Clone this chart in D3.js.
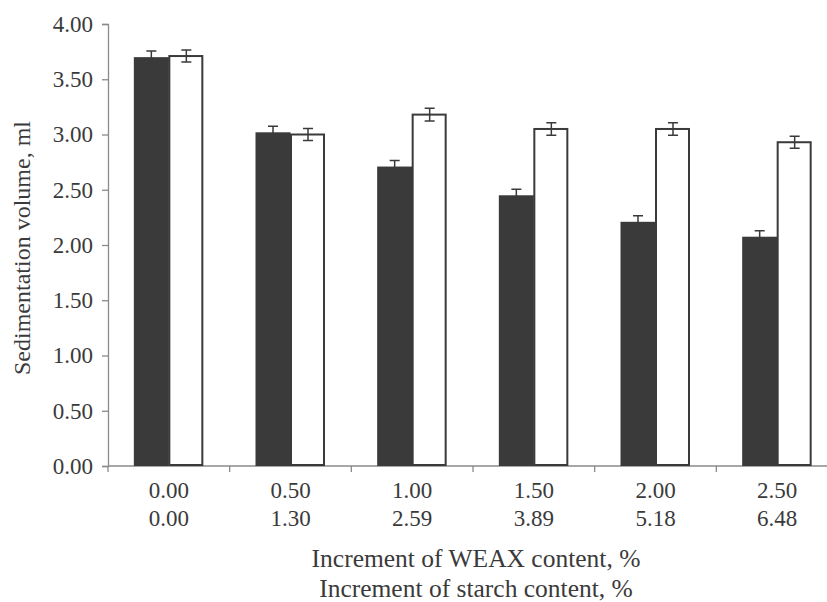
<!DOCTYPE html>
<html><head><meta charset="utf-8">
<script src="https://cdn.jsdelivr.net/npm/d3@7"></script>
<style>body{margin:0;background:#fff}svg{display:block}</style>
</head><body>
<script>
const weax = ["0.00","0.50","1.00","1.50","2.00","2.50"];
const starch = ["0.00","1.30","2.59","3.89","5.18","6.48"];
const darkVals = [3.70, 3.02, 2.71, 2.45, 2.21, 2.075];
const darkErr = [0.055, 0.055, 0.055, 0.055, 0.055, 0.055];
const whiteVals = [3.71, 3.00, 3.18, 3.05, 3.05, 2.93];
const whiteErr = [0.055, 0.055, 0.057, 0.057, 0.057, 0.055];
const yTicks = [0,0.5,1,1.5,2,2.5,3,3.5,4];

const W=827,H=602;
const FONT="Liberation Serif";
const svg=d3.select("body").append("svg").attr("width",W).attr("height",H);
const x=d3.scaleBand().domain(d3.range(weax.length)).range([108,838]);
const y=d3.scaleLinear().domain([0,4]).range([466,24]);
const axisCol="#8a8a8a", textCol="#3a3a3a", barCol="#3a3a3a";

// y axis
const ya=svg.append("g").attr("transform","translate(108,0)")
  .call(d3.axisLeft(y).tickValues(yTicks).tickFormat(d3.format(".2f")).tickSize(6).tickPadding(9));
ya.attr("font-family",FONT).attr("font-size",23);
ya.select(".domain").attr("stroke",axisCol).attr("stroke-width",1.3);
ya.selectAll(".tick line").attr("stroke",axisCol).attr("stroke-width",1.3);
ya.selectAll(".tick text").attr("fill",textCol).attr("font-family",FONT).attr("font-size",23);

// x axis line + boundary ticks
svg.append("line").attr("x1",108).attr("x2",838).attr("y1",y(0)).attr("y2",y(0))
  .attr("stroke",axisCol).attr("stroke-width",1.3);
const bounds=d3.range(weax.length+1).map(i=>108+i*x.step());
svg.selectAll(".xt").data(bounds).enter().append("line")
  .attr("x1",d=>d).attr("x2",d=>d).attr("y1",y(0)).attr("y2",y(0)+6)
  .attr("stroke",axisCol).attr("stroke-width",1.3);

const bw=35;
const g=svg.append("g");
g.selectAll(".db").data(darkVals).enter().append("rect")
  .attr("x",(d,i)=>x(i)+x.bandwidth()/2-bw).attr("width",bw)
  .attr("y",d=>y(d)).attr("height",d=>y(0)-y(d)).attr("fill",barCol);
g.selectAll(".wb").data(whiteVals).enter().append("rect")
  .attr("x",(d,i)=>x(i)+x.bandwidth()/2+0.5).attr("width",bw-2)
  .attr("y",d=>y(d)).attr("height",d=>y(0)-y(d)-1).attr("fill","#fff")
  .attr("stroke",barCol).attr("stroke-width",2);

function errs(vals,errsArr,cxf){
  vals.forEach((v,i)=>{
    const cx=cxf(i), e=errsArr[i];
    const p=d3.path();
    p.moveTo(cx,y(v+e)); p.lineTo(cx,y(v-e));
    p.moveTo(cx-5,y(v+e)); p.lineTo(cx+5,y(v+e));
    p.moveTo(cx-5,y(v-e)); p.lineTo(cx+5,y(v-e));
    g.append("path").attr("d",p.toString()).attr("stroke",barCol).attr("stroke-width",1.5).attr("fill","none");
  });
}
errs(darkVals,darkErr,i=>x(i)+x.bandwidth()/2-bw/2);
errs(whiteVals,whiteErr,i=>x(i)+x.bandwidth()/2+bw/2);

const xl=svg.append("g").attr("font-family",FONT).attr("font-size",23).attr("fill",textCol).attr("text-anchor","middle");
weax.forEach((t,i)=>xl.append("text").attr("x",x(i)+x.bandwidth()/2).attr("y",498).text(t));
starch.forEach((t,i)=>xl.append("text").attr("x",x(i)+x.bandwidth()/2).attr("y",526).text(t));

const tt=svg.append("g").attr("font-family",FONT).attr("fill",textCol).attr("text-anchor","middle");
tt.append("text").attr("font-size",25.5).attr("x",476).attr("y",567).text("Increment of WEAX content, %");
tt.append("text").attr("font-size",25.5).attr("x",476).attr("y",597).text("Increment of starch content, %");
tt.append("text").attr("font-size",24).attr("transform","translate(30,248) rotate(-90)").text("Sedimentation volume, ml");
</script>
</body></html>
